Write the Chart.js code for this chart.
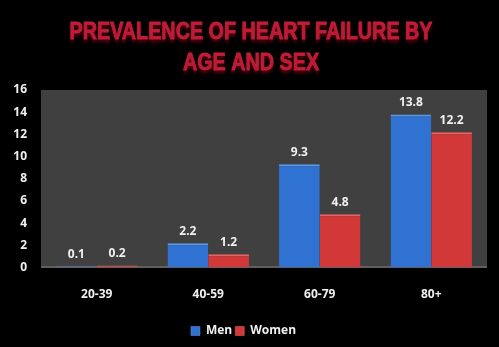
<!DOCTYPE html>
<html>
<head>
<meta charset="utf-8">
<script src="https://cdn.jsdelivr.net/npm/chart.js@4/dist/chart.umd.min.js"></script>
<style>
  html, body { margin: 0; padding: 0; background: #000; }
  #wrap { width: 499px; height: 347px; }
</style>
</head>
<body>
<div id="wrap"><canvas id="hfChart"></canvas></div>
<script>
// data
const ageGroups = ['20-39', '40-59', '60-79', '80+'];
const menValues = [0.1, 2.2, 9.3, 13.8];
const womenValues = [0.2, 1.2, 4.8, 12.2];
const yTicks = [0, 2, 4, 6, 8, 10, 12, 14, 16];
const titleLines = ['PREVALENCE OF HEART FAILURE BY', 'AGE AND SEX'];

// dark grey plot area
const plotBg = {
  id: 'plotBg',
  beforeDraw(chart) {
    const { ctx, chartArea: a } = chart;
    ctx.save();
    ctx.fillStyle = '#404040';
    ctx.fillRect(a.left, a.top, a.right - a.left, a.bottom - a.top);
    ctx.strokeStyle = '#8a8a8a';
    ctx.lineWidth = 1;
    ctx.beginPath();
    ctx.moveTo(a.left, a.bottom - 0.5);
    ctx.lineTo(a.right, a.bottom - 0.5);
    ctx.stroke();
    ctx.restore();
  }
};

// condensed title (no narrow font installed, so squeeze it horizontally)
const squeezedTitle = {
  id: 'squeezedTitle',
  afterDraw(chart) {
    const { ctx } = chart;
    ctx.save();
    ctx.font = 'bold 23px "Liberation Sans", Arial, sans-serif';
    ctx.fillStyle = '#c81e3a';
    ctx.strokeStyle = '#c81e3a';
    ctx.lineWidth = 0.8;
    ctx.textAlign = 'center';
    ctx.textBaseline = 'alphabetic';
    ctx.shadowColor = 'rgba(120, 10, 30, 0.55)';
    ctx.shadowOffsetY = 3;
    ctx.shadowBlur = 3;
    const k = 363 / ctx.measureText(titleLines[0]).width;
    ctx.translate(251, 0);
    ctx.scale(k, 1);
    [[titleLines[0], 39], [titleLines[1], 70]].forEach(([t, y]) => {
      ctx.fillText(t, 0, y);
      ctx.strokeText(t, 0, y);
    });
    ctx.restore();
  }
};

// value labels above the bars
const barLabels = {
  id: 'barLabels',
  afterDatasetsDraw(chart) {
    const { ctx } = chart;
    ctx.save();
    ctx.fillStyle = '#f0f0f0';
    ctx.font = 'bold 12px "Open Sans", sans-serif';
    ctx.textAlign = 'center';
    ctx.textBaseline = 'bottom';
    chart.data.datasets.forEach((ds, i) => {
      chart.getDatasetMeta(i).data.forEach((bar, j) => {
        ctx.fillText(ds.data[j].toFixed(1), bar.x, bar.y - 6);
      });
    });
    ctx.restore();
  }
};

new Chart(document.getElementById('hfChart'), {
  type: 'bar',
  data: {
    labels: ageGroups,
    datasets: [
      {
        label: 'Men',
        data: menValues,
        backgroundColor: '#2f72d2',
        borderColor: '#5a98ea',
        borderWidth: { top: 2, left: 0, right: 0, bottom: 0 }
      },
      {
        label: 'Women',
        data: womenValues,
        backgroundColor: '#d33838',
        borderColor: '#ea6262',
        borderWidth: { top: 2, left: 0, right: 0, bottom: 0 }
      }
    ]
  },
  options: {
    responsive: true,
    maintainAspectRatio: false,
    animation: false,
    layout: { padding: { left: 0, right: 12, top: 90, bottom: 0 } },
    datasets: {
      bar: { barPercentage: 1.0, categoryPercentage: 0.73 }
    },
    plugins: {
      title: { display: false },
      legend: {
        position: 'bottom',
        labels: {
          color: '#f0f0f0',
          boxWidth: 9,
          boxHeight: 9,
          padding: 3,
          font: { family: '"Open Sans", sans-serif', size: 12, weight: 'bold' }
        }
      },
      tooltip: { enabled: false }
    },
    scales: {
      x: {
        grid: { display: false, drawTicks: false },
        border: { display: false },
        ticks: {
          color: '#f0f0f0',
          padding: 20,
          font: { family: '"Open Sans", sans-serif', size: 12, weight: 'bold' }
        }
      },
      y: {
        min: 0,
        max: 16,
        afterFit(scale) { scale.width = 41; },
        afterBuildTicks(scale) { scale.ticks = yTicks.map(v => ({ value: v })); },
        grid: { display: false, drawTicks: false },
        border: { display: false },
        ticks: {
          color: '#f0f0f0',
          padding: 14,
          font: { family: '"Open Sans", sans-serif', size: 12, weight: 'bold' }
        }
      }
    }
  },
  plugins: [plotBg, barLabels, squeezedTitle]
});
</script>
</body>
</html>
